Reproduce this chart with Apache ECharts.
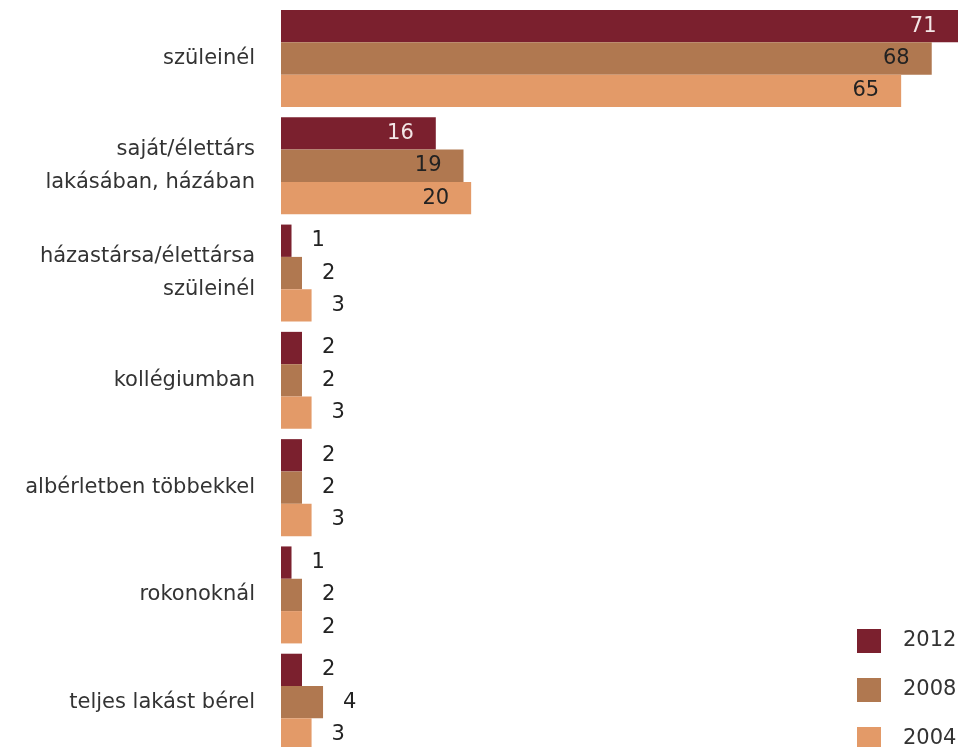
<!DOCTYPE html>
<html>
<head>
<meta charset="utf-8">
<script src="https://cdn.jsdelivr.net/npm/echarts@6/dist/echarts.min.js"></script>
<style>
html,body{margin:0;padding:0;background:#fff;}
#chart{width:958px;height:747px;}
</style>
</head>
<body>
<div id="chart"></div>
<script>
var categories = [
  "szüleinél",
  "saját/élettárs\nlakásában, házában",
  "házastársa/élettársa\nszüleinél",
  "kollégiumban",
  "albérletben többekkel",
  "rokonoknál",
  "teljes lakást bérel"
];
var seriesNames = ["2012", "2008", "2004"];
var values2012 = [70.9, 16.2, 1.1, 2.2, 2.2, 1.1, 2.2];
var values2008 = [68.1, 19.1, 2.2, 2.2, 2.2, 2.2, 4.4];
var values2004 = [64.9, 19.9, 3.2, 3.2, 3.2, 2.2, 3.2];
var colors = ["#7B202E", "#B07850", "#E39A68"];
var insideLabelColors = ["#f3e6e6", "#222222", "#222222"];

var FONT = "DejaVu Sans";

function buildData(vals, idx) {
  return vals.map(function (v) {
    var inside = v > 10;
    return {
      value: v,
      label: inside ? {
        position: "insideRight",
        distance: 22,
        color: insideLabelColors[idx]
      } : {
        position: "right",
        distance: 20,
        color: "#222222"
      }
    };
  });
}

var allValues = [values2012, values2008, values2004];
var series = allValues.map(function (vals, i) {
  return {
    name: seriesNames[i],
    type: "bar",
    barGap: "0%",
    barCategoryGap: "9.6%",
    itemStyle: { color: colors[i] },
    label: {
      show: true,
      fontFamily: FONT,
      fontSize: 21,
      formatter: function (p) { return Math.round(p.value); }
    },
    data: buildData(vals, i)
  };
});

var legendTops = [629, 678, 727];
var legends = seriesNames.map(function (name, i) {
  return {
    orient: "vertical",
    left: 857,
    top: legendTops[i],
    padding: 0,
    itemWidth: 24,
    itemHeight: 24,
    icon: "rect",
    data: [name],
    selectedMode: false,
    textStyle: {
      fontFamily: FONT,
      fontSize: 21,
      color: "#333333",
      padding: [0, 0, 0, 17]
    }
  };
});

var chart = echarts.init(document.getElementById("chart"), null, { renderer: "canvas" });
chart.setOption({
  animation: false,
  backgroundColor: "#ffffff",
  grid: {
    left: 281, top: 4.85, right: -11, bottom: -8.85,
    containLabel: false,
    outerBoundsMode: "none"
  },
  xAxis: {
    type: "value", min: 0, max: 72, show: false
  },
  yAxis: {
    type: "category",
    data: categories,
    inverse: true,
    axisLine: { show: false },
    axisTick: { show: false },
    splitLine: { show: false },
    axisLabel: {
      margin: 26,
      fontFamily: FONT,
      fontSize: 21,
      lineHeight: 33,
      color: "#333333",
      align: "right",
      padding: [3, 0, 0, 0]
    }
  },
  legend: legends,
  series: series
});
</script>
</body>
</html>
